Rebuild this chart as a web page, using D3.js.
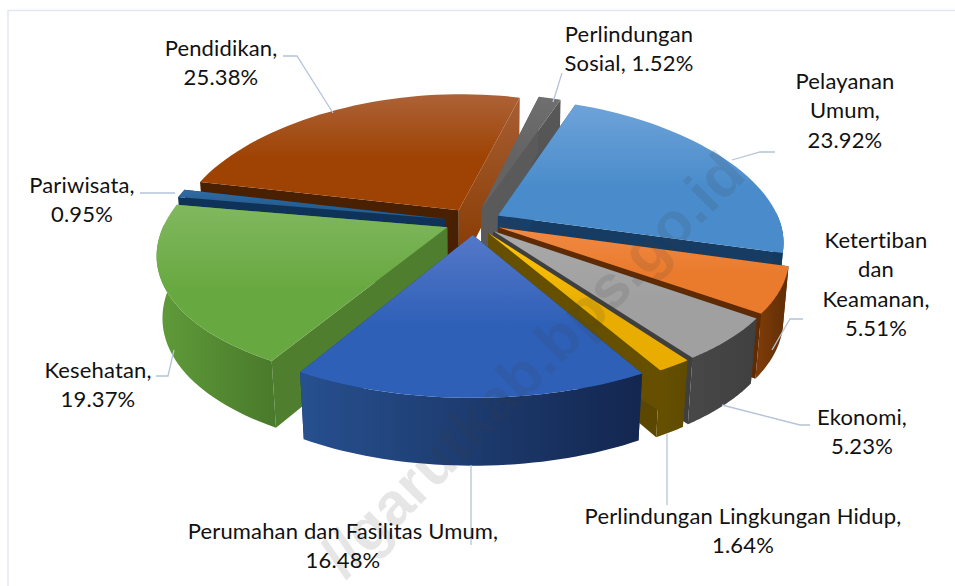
<!DOCTYPE html>
<html><head><meta charset="utf-8">
<script src="https://cdnjs.cloudflare.com/ajax/libs/d3/7.8.5/d3.min.js"></script>
<style>html,body{margin:0;padding:0;background:#fff}svg{display:block}text{font-family:"Lato",sans-serif;font-size:22px;letter-spacing:.15px;fill:#111}</style>
</head><body><svg id="c" width="955" height="586"></svg>
<script>
const categories=["Pelayanan Umum","Ketertiban dan Keamanan","Ekonomi","Perlindungan Lingkungan Hidup","Perumahan dan Fasilitas Umum","Kesehatan","Pariwisata","Pendidikan","Perlindungan Sosial"];
const values=[23.92,5.51,5.23,1.64,16.48,19.37,0.95,25.38,1.52];
const valueLabels=["23.92%","5.51%","5.23%","1.64%","16.48%","19.37%","0.95%","25.38%","1.52%"];
const topColors=[["#6ea3d9","#4a8ccb"],["#f08a45","#ea7a2c"],["#a9a9a9","#a0a0a0"],["#ffc60a","#e8ad00"],["#5578c8","#2f60b8"],["#80b85f","#68a840"],["#316ba3","#255e91"],["#ad6238","#9e4303"],["#6f6f6f","#636363"]];
const wallColors=[["#1a3f66","#153a60"],["#7b3a08","#5f2d05"],["#474747","#404040"],["#665000","#5f4a00"],["#27508f","#13264f"],["#609c3a","#4a7a2b"],["#123a62","#0f3358"],["#7d3a06","#4a2002"],["#5a5a5a","#4d4d4d"]];
const startWallColors=[["#1a3f66","#1a3f66"],["#5e2b05","#5e2b05"],["#3f3f3f","#3f3f3f"],["#665000","#665000"],["#1a3566","#1a3566"],["#4f7f2e","#4f7f2e"],["#0f3358","#0f3358"],["#4a2002","#4a2002"],["#5a5a5a","#5a5a5a"]];
const endWallColors=[["#163c63","#163c63"],["#5e2b05","#5e2b05"],["#3f3f3f","#3f3f3f"],["#5c4700","#5c4700"],["#1a3566","#1a3566"],["#4f7f2e","#4f7f2e"],["#0f3358","#0f3358"],["#a85f35","#8a3d04"],["#585858","#4f4f4f"]];
const drawOrder=[7,8,6,0,5,1,2,3,4];

// label layout
const labelLines=[["Pelayanan","Umum,"],["Ketertiban","dan","Keamanan,"],["Ekonomi,"],["Perlindungan Lingkungan Hidup,"],["Perumahan dan Fasilitas Umum,"],["Kesehatan,"],["Pariwisata,"],["Pendidikan,"],["Perlindungan","Sosial, "]];
const labelCenters=[[845,89],[876,248],[862,425],[743,524],[343,539],[98,378],[82,193],[221,56],[629,42]];
const leaders=[[[775,152],[760,152],[732,160]],[[803,319],[790,319],[772,350]],[[810,425],[800,425],[722,405]],[[667,434],[667,505]],[[471,465],[471,545]],[[156,376],[168,376],[174,350]],[[140,193],[175,193]],[[283,56],[297,56],[333,113]],[[562,73],[553,102]]];

const svg=d3.select("#c"),defs=svg.append("defs");
const view={cx:473,cy:221.5,f:282,p:.19,k:.47,h:.22,q:.018,explode:.1,lift:8,start:20*Math.PI/180};
function project(X,Y,z,lift){const w=1-view.p*Y+view.q*z;return [view.cx+view.f*X/w,view.cy-lift+view.f*view.k*Y/w+view.f*view.h*z/Math.pow(w,.7)];}
const pie=d3.pie().sort(null).value(d=>d).startAngle(view.start).endAngle(view.start+2*Math.PI);
const arcs=pie(values);
const line=d3.line();
function grad(id,stops,x1,y1,x2,y2){const g=defs.append("linearGradient").attr("id",id).attr("gradientUnits","userSpaceOnUse").attr("x1",x1).attr("y1",y1).attr("x2",x2).attr("y2",y2);
 stops.forEach((c,i)=>g.append("stop").attr("offset",i/(stops.length-1)).attr("stop-color",c));return `url(#${id})`;}

// frame
svg.append("path").attr("d","M8,586V10.5H955").attr("fill","none").attr("stroke","#e4e8f1").attr("stroke-width",1.5);

const gSlices=svg.append("g");
drawOrder.forEach(i=>{
 const a=arcs[i],mid=(a.startAngle+a.endAngle)/2;
 const ox=view.explode*Math.sin(mid),oy=-view.explode*Math.cos(mid);
 const P=(t,z,r=1)=>project(ox+r*Math.sin(t),oy-r*Math.cos(t),z,r*view.lift*Math.cos(t)**2);
 const ts=d3.range(0,41).map(j=>a.startAngle+(a.endAngle-a.startAngle)*j/40);
 const topArc=ts.map(t=>P(t,0)),botArc=ts.map(t=>P(t,1));
 const apexT=P(0,0,0),apexB=P(0,1,0);
 const xs=topArc.map(p=>p[0]),ys=topArc.concat([apexT]).map(p=>p[1]);
 const g=gSlices.append("g").attr("data-name",categories[i]);
 const y0=d3.min(ys),y1=d3.max(ys);
 g.append("path").attr("d",line([apexT,topArc[40],botArc[40],apexB])+"Z").attr("fill",grad("end"+i,endWallColors[i],0,y0,0,y1+40));
 g.append("path").attr("d",line([apexT,topArc[0],botArc[0],apexB])+"Z").attr("fill",grad("start"+i,startWallColors[i],0,y0,0,y1+40));
 const front=ts.filter(t=>Math.cos(t)<0.02);
 if(front.length>1){
  const ft=front.map(t=>P(t,0)),fb=front.map(t=>P(t,1));
  g.append("path").attr("d",line(ft.concat(fb.reverse()))+"Z").attr("fill",grad("wall"+i,wallColors[i],d3.min(xs),0,d3.max(xs),0));
 }
 g.append("path").attr("d",line([apexT].concat(topArc))+"Z").attr("fill",grad("top"+i,topColors[i],0,y0,0,y0+(y1-y0)*.55));
});
// leaders
svg.append("g").selectAll("path").data(leaders).join("path").attr("d",d=>line(d)).attr("fill","none").attr("stroke","#b5c4d8").attr("stroke-width",1.3);
// watermark
svg.append("text").attr("transform","translate(748,177) rotate(-45)").attr("text-anchor","end")
 .style("font-family","'Liberation Sans',sans-serif").style("font-weight","bold").style("font-size","60px").style("letter-spacing","0").style("fill","rgba(60,60,60,.13)").text("//garutkab.bps.go.id");
// labels
const lineH=29.3;
const gL=svg.append("g").attr("text-anchor","middle");
labelLines.forEach((ls,i)=>{
 const all=i===8?[ls[0],ls[1]+valueLabels[i]]:ls.concat(valueLabels[i]);
 all.forEach((t,j)=>gL.append("text").attr("x",labelCenters[i][0]).attr("y",labelCenters[i][1]+j*lineH).text(t));
});
</script></body></html>
